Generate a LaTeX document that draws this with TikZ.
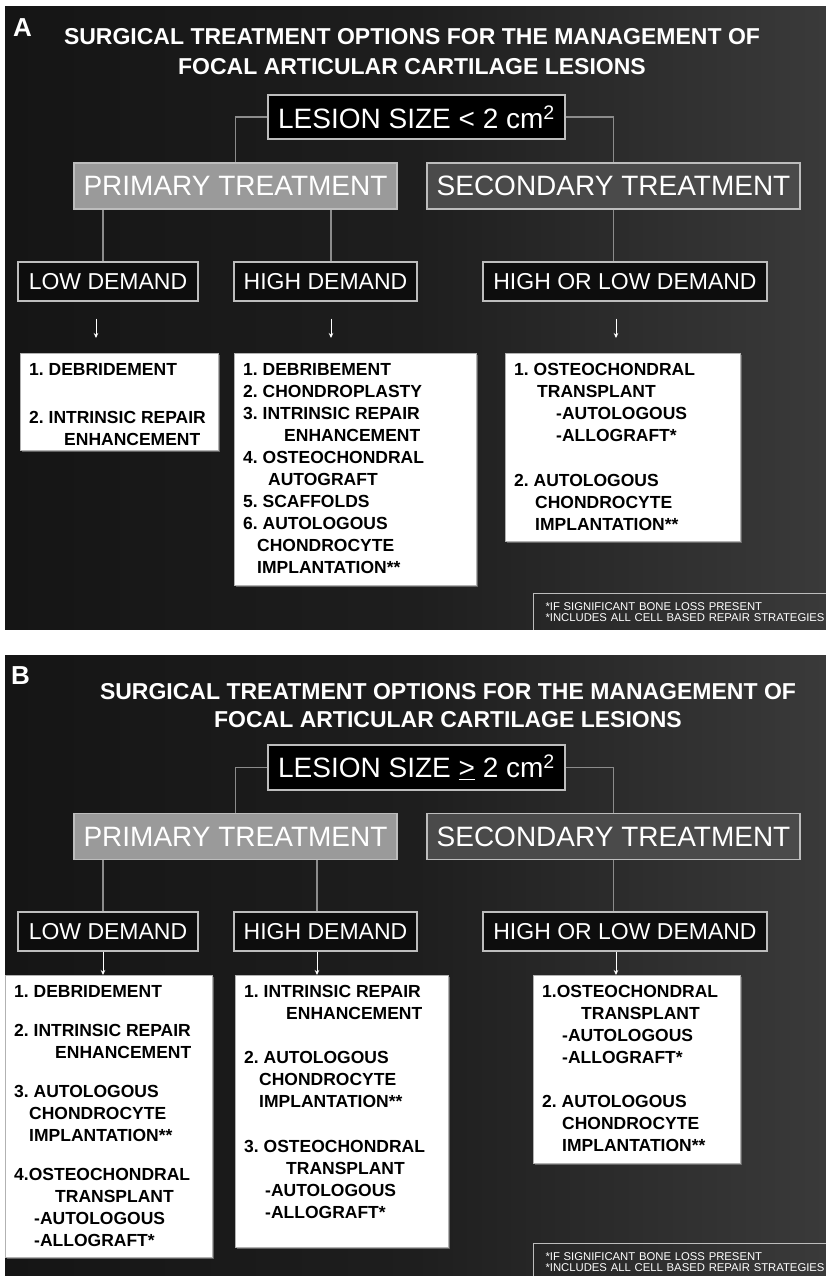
\documentclass[tikz,border=0pt]{standalone}
\usepackage{fontspec}
\setmainfont{Liberation Sans}
\usetikzlibrary{arrows.meta,shadows,calc}

\definecolor{bgdark}{HTML}{151515}
\definecolor{bgmid}{HTML}{1E1E1E}
\definecolor{bglight}{HTML}{3A3A3A}
\definecolor{primfill}{HTML}{9A9A9A}
\definecolor{secfill}{HTML}{4A4A4A}
\definecolor{edgegray}{HTML}{BDBDBD}
\definecolor{linkgray}{HTML}{8C8C8C}

\tikzset{
  panel/.style={left color=bgdark, right color=bglight, middle color=bgmid},
  bigbox/.style={draw=edgegray, line width=1.5pt, text=white, inner sep=0pt,
    minimum height=46pt, font=\fontsize{28}{30}\selectfont},
  demand/.style={draw=edgegray, line width=1.2pt, fill=black!95, text=white,
    inner sep=0pt, minimum height=39pt, font=\fontsize{23}{25}\selectfont},
  listbox/.style={draw=gray!60, fill=white, anchor=north west, inner xsep=9pt,
    inner ysep=10pt, drop shadow={shadow xshift=2pt, shadow yshift=-2pt, opacity=.7},
    font=\bfseries\fontsize{17.5}{22}\selectfont},
  link/.style={draw=linkgray, line width=1.3pt},
  arr/.style={draw=white, line width=0.8pt, -{Stealth[length=5pt,width=4.5pt]}},
  footbox/.style={draw=edgegray, line width=1pt, anchor=north west, text=white,
    align=left, inner xsep=12pt, inner ysep=9pt, text width=300pt,
    font=\fontsize{11.3}{11}\selectfont},
  headline/.style={text=white, align=center, font=\bfseries\fontsize{23}{30}\selectfont},
  panelmark/.style={text=white, anchor=north west, inner sep=0pt,
    font=\bfseries\fontsize{26}{26}\selectfont}
}

\begin{document}
\begin{tikzpicture}[x=1pt, y=-1pt]
\useasboundingbox (0,0) rectangle (826,1276);
\fill[white] (0,0) rectangle (826,1276);
\shade[panel] (5,7) rectangle (826,629);
\shade[panel] (5,655) rectangle (826,1276);

% ---- panel A
\node[panelmark] (markA) at (13,18) {A};
\node[headline] (titleA) at (412,51.5) {SURGICAL TREATMENT OPTIONS FOR THE MANAGEMENT OF\\FOCAL ARTICULAR CARTILAGE LESIONS};
\node[bigbox, fill=black, minimum width=297pt, minimum height=44pt] (lesionA) at (416.5,117) {LESION SIZE < 2 cm\textsuperscript{2}};
\node[bigbox, fill=primfill, minimum width=323pt] (primA) at (235.5,186) {PRIMARY TREATMENT};
\node[bigbox, fill=secfill, minimum width=373pt] (secA) at (613.5,186) {SECONDARY TREATMENT};
\node[demand, minimum width=180pt] (lowA) at (108,281.5) {LOW DEMAND};
\node[demand, minimum width=183pt] (highA) at (325.5,281.5) {HIGH DEMAND};
\node[demand, minimum width=284pt] (holA) at (625,281.5) {HIGH OR LOW DEMAND};

\node[listbox] (lstLowA) at (20,353) {\parbox[t][77pt][t]{180pt}{\raggedright
1.~DEBRIDEMENT\\[26pt]
2.~INTRINSIC~REPAIR\\
\hspace*{35pt}ENHANCEMENT}};
\node[listbox] (lstHighA) at (234,353) {\parbox[t][212pt][t]{224pt}{\raggedright
1.~DEBRIBEMENT\\
2.~CHONDROPLASTY\\
3.~INTRINSIC~REPAIR\\
\hspace*{41pt}ENHANCEMENT\\
4.~OSTEOCHONDRAL\\
\hspace*{25pt}AUTOGRAFT\\
5.~SCAFFOLDS\\
6.~AUTOLOGOUS\\
\hspace*{14pt}CHONDROCYTE\\
\hspace*{14pt}IMPLANTATION**}};
\node[listbox] (lstSecA) at (505,353) {\parbox[t][168pt][t]{217pt}{\raggedright
1.~OSTEOCHONDRAL\\
\hspace*{23pt}TRANSPLANT\\
\hspace*{42pt}-AUTOLOGOUS\\
\hspace*{42pt}-ALLOGRAFT*\\[23pt]
2.~AUTOLOGOUS\\
\hspace*{21pt}CHONDROCYTE\\
\hspace*{21pt}IMPLANTATION**}};

\begin{scope}
  \clip (5,7) rectangle (826,629);
  \node[footbox] (noteA) at (533,593) {*IF SIGNIFICANT BONE LOSS PRESENT\\**INCLUDES ALL CELL BASED REPAIR STRATEGIES};
\end{scope}

\draw[link] (lesionA.west) -| (primA.north);
\draw[link] (lesionA.east) -| (secA.north);
\draw[link] ($(lowA.north)+(-5,0)$) -- ($(lowA.north |- primA.south)+(-5,0)$);
\draw[link] ($(highA.north)+(5.5,0)$) -- ($(highA.north |- primA.south)+(5.5,0)$);
\draw[link] (secA.south) -- (secA.south |- holA.north);

\draw[arr, shorten <=17pt, shorten >=15pt] ($(lowA.south)+(-12,0)$) -- ($(lowA.south |- lstLowA.north)+(-12,0)$);
\draw[arr, shorten <=17pt, shorten >=15pt] ($(highA.south)+(5.5,0)$) -- ($(highA.south |- lstHighA.north)+(5.5,0)$);
\draw[arr, shorten <=17pt, shorten >=15pt] ($(holA.south)+(-9,0)$) -- ($(holA.south |- lstSecA.north)+(-9,0)$);

% ---- panel B
\node[panelmark] (markB) at (11,666) {B};
\node[headline, font=\bfseries\fontsize{23}{28}\selectfont] (titleB) at (448,706) {SURGICAL TREATMENT OPTIONS FOR THE MANAGEMENT OF\\FOCAL ARTICULAR CARTILAGE LESIONS};
\node[bigbox, fill=black, minimum width=297pt, minimum height=45pt] (lesionB) at (416.5,767.5) {LESION SIZE \underline{>} 2 cm\textsuperscript{2}};
\node[bigbox, fill=primfill, minimum width=323pt] (primB) at (235.5,836.5) {PRIMARY TREATMENT};
\node[bigbox, fill=secfill, minimum width=373pt] (secB) at (613.5,836.5) {SECONDARY TREATMENT};
\node[demand, minimum width=180pt] (lowB) at (108,931.5) {LOW DEMAND};
\node[demand, minimum width=183pt] (highB) at (325.5,931.5) {HIGH DEMAND};
\node[demand, minimum width=284pt] (holB) at (625,931.5) {HIGH OR LOW DEMAND};

\node[listbox] (lstLowB) at (5,975) {\parbox[t][262pt][t]{189pt}{\raggedright
1.~DEBRIDEMENT\\[17pt]
2.~INTRINSIC~REPAIR\\
\hspace*{41pt}ENHANCEMENT\\[17pt]
3.~AUTOLOGOUS\\
\hspace*{15pt}CHONDROCYTE\\
\hspace*{15pt}IMPLANTATION**\\[17pt]
4.OSTEOCHONDRAL\\
\hspace*{41pt}TRANSPLANT\\
\hspace*{20pt}-AUTOLOGOUS\\
\hspace*{20pt}-ALLOGRAFT*}};
\node[listbox] (lstHighB) at (235,975) {\parbox[t][252pt][t]{195pt}{\raggedright
1.~INTRINSIC~REPAIR\\
\hspace*{42pt}ENHANCEMENT\\[22pt]
2.~AUTOLOGOUS\\
\hspace*{15pt}CHONDROCYTE\\
\hspace*{15pt}IMPLANTATION**\\[23pt]
3.~OSTEOCHONDRAL\\
\hspace*{42pt}TRANSPLANT\\
\hspace*{21pt}-AUTOLOGOUS\\
\hspace*{21pt}-ALLOGRAFT*}};
\node[listbox] (lstSecB) at (533,975) {\parbox[t][168pt][t]{189pt}{\raggedright
1.OSTEOCHONDRAL\\
\hspace*{39pt}TRANSPLANT\\
\hspace*{20pt}-AUTOLOGOUS\\
\hspace*{20pt}-ALLOGRAFT*\\[22pt]
2.~AUTOLOGOUS\\
\hspace*{20pt}CHONDROCYTE\\
\hspace*{20pt}IMPLANTATION**}};

\begin{scope}
  \clip (5,655) rectangle (826,1276);
  \node[footbox] (noteB) at (533,1243) {*IF SIGNIFICANT BONE LOSS PRESENT\\**INCLUDES ALL CELL BASED REPAIR STRATEGIES};
\end{scope}

\draw[link] (lesionB.west) -| (primB.north);
\draw[link] (lesionB.east) -| (secB.north);
\draw[link] ($(lowB.north)+(-5,0)$) -- ($(lowB.north |- primB.south)+(-5,0)$);
\draw[link] ($(highB.north)+(-8.5,0)$) -- ($(highB.north |- primB.south)+(-8.5,0)$);
\draw[link] (secB.south) -- (secB.south |- holB.north);

\draw[arr] ($(lowB.south)+(-5,0)$) -- ($(lowB.south |- lstLowB.north)+(-5,0)$);
\draw[arr] ($(highB.south)+(-8.5,0)$) -- ($(highB.south |- lstHighB.north)+(-8.5,0)$);
\draw[arr] ($(holB.south)+(-9,0)$) -- ($(holB.south |- lstSecB.north)+(-9,0)$);
\end{tikzpicture}
\end{document}
